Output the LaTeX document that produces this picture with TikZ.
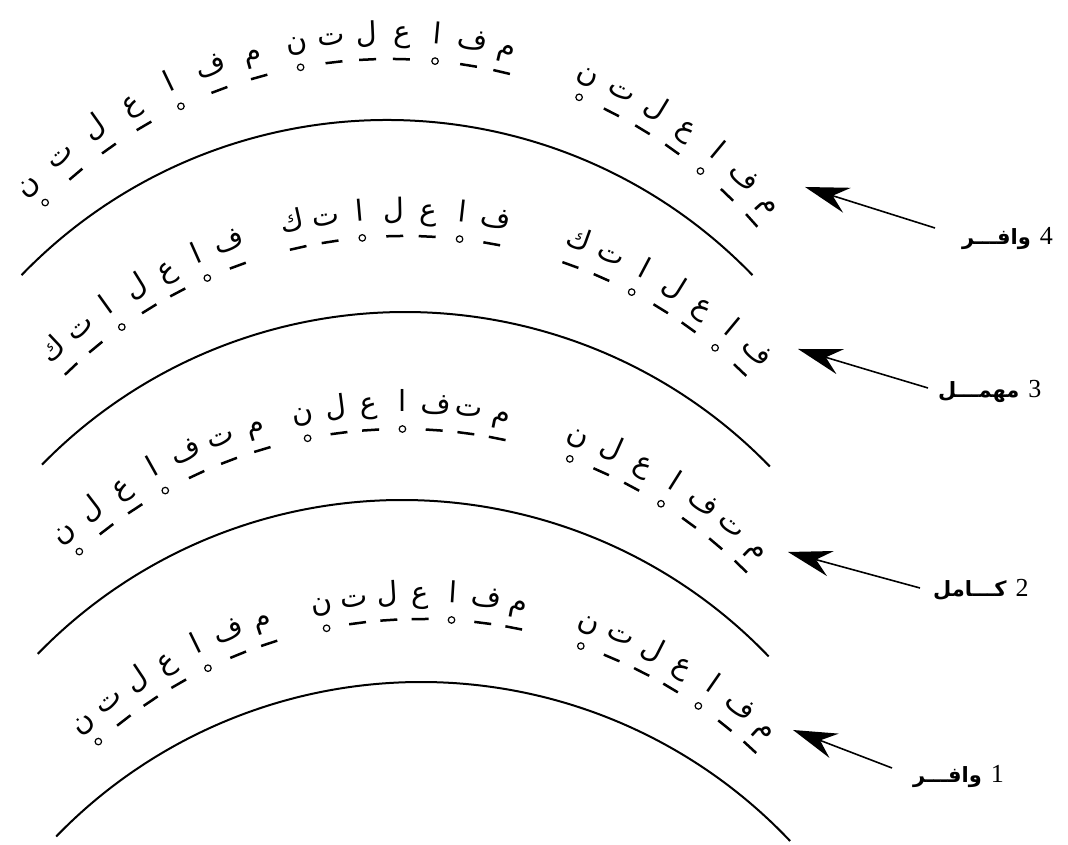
\documentclass[tikz,border=0pt]{standalone}
\usepackage{fontspec}
\usetikzlibrary{arrows.meta,calc}
\TeXXeTstate=1
\newfontfamily\arabicfont[Script=Arabic]{DejaVu Sans}
\newfontfamily\numfont{Liberation Serif}
\newcommand\bandfoot[6]{%
  \foreach \ch/\mk [count=\i from 0] in #5 {
    \pgfmathsetmacro\ph{#3+#4*\i}
    \node[letter, rotate=-\ph] (#6\i) at ($(#1,#2)+({90-\ph}:503)$) {\ch};
    \if\mk o
      \node[marko] (#6m\i) at ($(#1,#2)+({90-\ph}:486)$) {};
    \else
      \node[markd, rotate=-\ph] (#6m\i) at ($(#1,#2)+({90-\ph}:486)$) {};
    \fi
  }}
\begin{document}
\begin{tikzpicture}[x=1pt,y=1pt,
  arcline/.style={line width=2pt},
  letter/.style={font=\arabicfont\fontsize{29}{29}\selectfont, inner sep=0pt, anchor=base},
  marko/.style={circle, draw, line width=1.2pt, inner sep=0pt, minimum size=6.5pt},
  markd/.style={fill, inner sep=0pt, minimum width=17pt, minimum height=2.5pt},
  arr/.style={line width=1.6pt, -{Stealth[length=44pt,width=26pt,inset=15pt]}},
  lab/.style={inner sep=0pt, anchor=base west}]
\useasboundingbox (0,0) rectangle (1068,845);
% arcs
\draw[arcline] (387,217) ++(136:508) arc[start angle=136,end angle=44,radius=508];
\draw[arcline] (405,25) ++(135.6:508) arc[start angle=135.6,end angle=44.1,radius=508];
\draw[arcline] (402,-163) ++(135.8:508) arc[start angle=135.8,end angle=43.8,radius=508];
\draw[arcline] (421,-345) ++(135.9:508) arc[start angle=135.9,end angle=43.4,radius=508];
\def\W{ن/o,ت/d,ل/d,ع/d,ا/o,ف/d,م/d}
\def\F{ك/d,ت/d,ا/o,ل/d,ع/d,ا/o,ف/d}
\def\K{ن/o,ل/d,ع/d,ا/o,ف/d,ت/d,م/d}
% band 4 (wafir)
\bandfoot{390}{300}{-45.2}{4.93}{\W}{da}
\bandfoot{390}{300}{-10.6}{3.98}{\W}{db}
\bandfoot{390}{300}{22.9}{4.2}{\W}{dc}
% band 3 (muhmal)
\bandfoot{405}{123}{-43.4}{3.88}{\F}{ca}
\bandfoot{405}{123}{-12.7}{3.83}{\F}{cb}
\bandfoot{405}{123}{19.9}{3.95}{\F}{cc}
% band 2 (kamil)
\bandfoot{402}{-70}{-41.6}{4.15}{\K}{ba}
\bandfoot{402}{-70}{-11.2}{3.75}{\K}{bb}
\bandfoot{402}{-70}{20.2}{4.0}{\K}{bc}
% band 1 (wafir)
\bandfoot{421}{-260}{-41.6}{3.9}{\W}{aa}
\bandfoot{421}{-260}{-11.2}{3.7}{\W}{ab}
\bandfoot{421}{-260}{19.2}{3.9}{\W}{ac}
% labels
\node[lab] (lab4) at (962,600) {{\arabicfont\bfseries\fontsize{21}{21}\selectfont\beginR وافـــر\endR}\hspace{9pt}{\numfont\fontsize{26}{26}\selectfont 4}};
\node[lab] (lab3) at (938,447) {{\arabicfont\bfseries\fontsize{21}{21}\selectfont\beginR مهمـــل\endR}\hspace{9pt}{\numfont\fontsize{26}{26}\selectfont 3}};
\node[lab] (lab2) at (933,248) {{\arabicfont\bfseries\fontsize{21}{21}\selectfont\beginR كـــامل\endR}\hspace{9pt}{\numfont\fontsize{26}{26}\selectfont 2}};
\node[lab] (lab1) at (913,62) {{\arabicfont\bfseries\fontsize{21}{21}\selectfont\beginR وافـــر\endR}\hspace{9pt}{\numfont\fontsize{26}{26}\selectfont 1}};
% arrows
\coordinate (s4) at (935,617); \coordinate (t4) at (805,658);
\coordinate (s3) at (928,457); \coordinate (t3) at (798,496);
\coordinate (s2) at (920,257); \coordinate (t2) at (788,293);
\coordinate (s1) at (892,77);  \coordinate (t1) at (793,115);
\draw[arr] (s4) -- (t4);
\draw[arr] (s3) -- (t3);
\draw[arr] (s2) -- (t2);
\draw[arr] (s1) -- (t1);
\end{tikzpicture}
\end{document}
